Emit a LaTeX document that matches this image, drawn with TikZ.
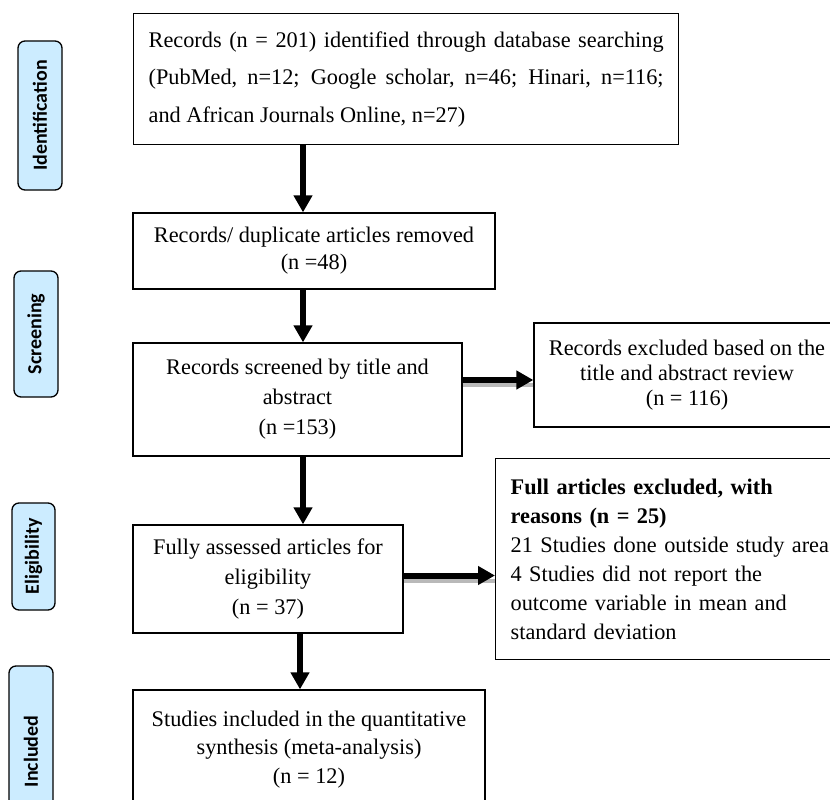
\documentclass[tikz,border=0pt]{standalone}
\usepackage{fontspec}
\setmainfont{Liberation Serif}
\newfontfamily\labelfont{Carlito}
\usetikzlibrary{arrows.meta}
\definecolor{phaseblue}{RGB}{204,236,255}
\begin{document}
\begin{tikzpicture}[x=1pt,y=-1pt,
  box/.style={draw=black, line width=1.3pt, inner sep=0pt, align=center},
  phase/.style={draw=black, line width=1.3pt, fill=phaseblue, rounded corners=7pt,
    rotate=90, inner sep=0pt, minimum height=44pt,
    font=\labelfont\bfseries\fontsize{20}{24}\selectfont},
  flow/.style={line width=6pt, -{Triangle[length=17pt,width=18pt]}},
  shadowline/.style={line width=4pt, draw=gray!55},
]
\useasboundingbox (0,0) rectangle (830,800);
\clip (0,0) rectangle (830,800);

% phase labels
\node[phase, minimum width=149pt] (l1) at (40,115.5) {Identification};
\node[phase, minimum width=126pt] (l2) at (36,334) {Screening};
\node[phase, minimum width=107pt, minimum height=43pt] (l3) at (33.5,556.5) {Eligibility};
\node[phase, minimum width=171pt] (l4) at (31,751.5) {Included};

% main column
\node[box, anchor=north west, text width=515pt, align=justify, inner xsep=15pt,
  minimum height=131pt, font=\fontsize{22.3}{37.5}\selectfont] (b1) at (133,13)
  {\hyphenpenalty=10000 Records (n = 201) identified through database searching\linebreak (PubMed, n=12; Google scholar, n=46; Hinari, n=116;\linebreak and African Journals Online, n=27)};

\node[box, minimum width=362pt, minimum height=76pt, font=\fontsize{22.3}{27}\selectfont] (b2) at (314,251)
  {Records/ duplicate articles removed\\(n =48)};

\node[box, minimum width=329pt, minimum height=113pt, font=\fontsize{22.3}{30}\selectfont] (b3) at (297.5,399.5)
  {Records screened by title and\\abstract\\(n =153)};

\node[box, minimum width=270pt, minimum height=108pt, font=\fontsize{22.3}{30}\selectfont] (b4) at (268,579)
  {Fully assessed articles for\\eligibility\\(n = 37)};

\node[box, minimum width=352pt, minimum height=119pt, font=\fontsize{22.3}{28.5}\selectfont] (b5) at (309,749.5)
  {Studies included in the quantitative\\synthesis (meta-analysis)\\(n = 12)};

% right column
\node[box, minimum width=306pt, minimum height=104pt, font=\fontsize{22.3}{25}\selectfont] (r1) at (687,375)
  {Records excluded based on the\\title and abstract review\\(n = 116)};

\node[box, anchor=north west, align=left, text width=330pt, inner xsep=15pt, inner ysep=20pt,
  font=\fontsize{22.3}{29}\selectfont] (r2) at (495,458)
  {\textbf{Full articles excluded, with}\\\textbf{reasons (n = 25)}\\21 Studies done outside study area\\4 Studies did not report the\\outcome variable in mean and\\standard deviation};

% guide coordinates
\coordinate (ax) at (303,0);
\coordinate (ax4) at (300,0);
\coordinate (ya) at (0,380);
\coordinate (yas) at (0,385);
\coordinate (yb) at (0,575.5);
\coordinate (ybs) at (0,581);

% vertical arrows
\draw[flow] (b1.south -| ax) -- (b2.north -| ax);
\draw[flow] (b2.south -| ax) -- (b3.north -| ax);
\draw[flow] (b3.south -| ax) -- (b4.north -| ax);
\draw[flow] (b4.south -| ax4) -- (b5.north -| ax4);

% horizontal arrows with shadow
\draw[shadowline] (b3.east |- yas) -- (r1.west |- yas);
\draw[flow] (b3.east |- ya) -- (r1.west |- ya);
\draw[shadowline] (b4.east |- ybs) -- (r2.west |- ybs);
\draw[flow] (b4.east |- yb) -- (r2.west |- yb);
\end{tikzpicture}
\end{document}
